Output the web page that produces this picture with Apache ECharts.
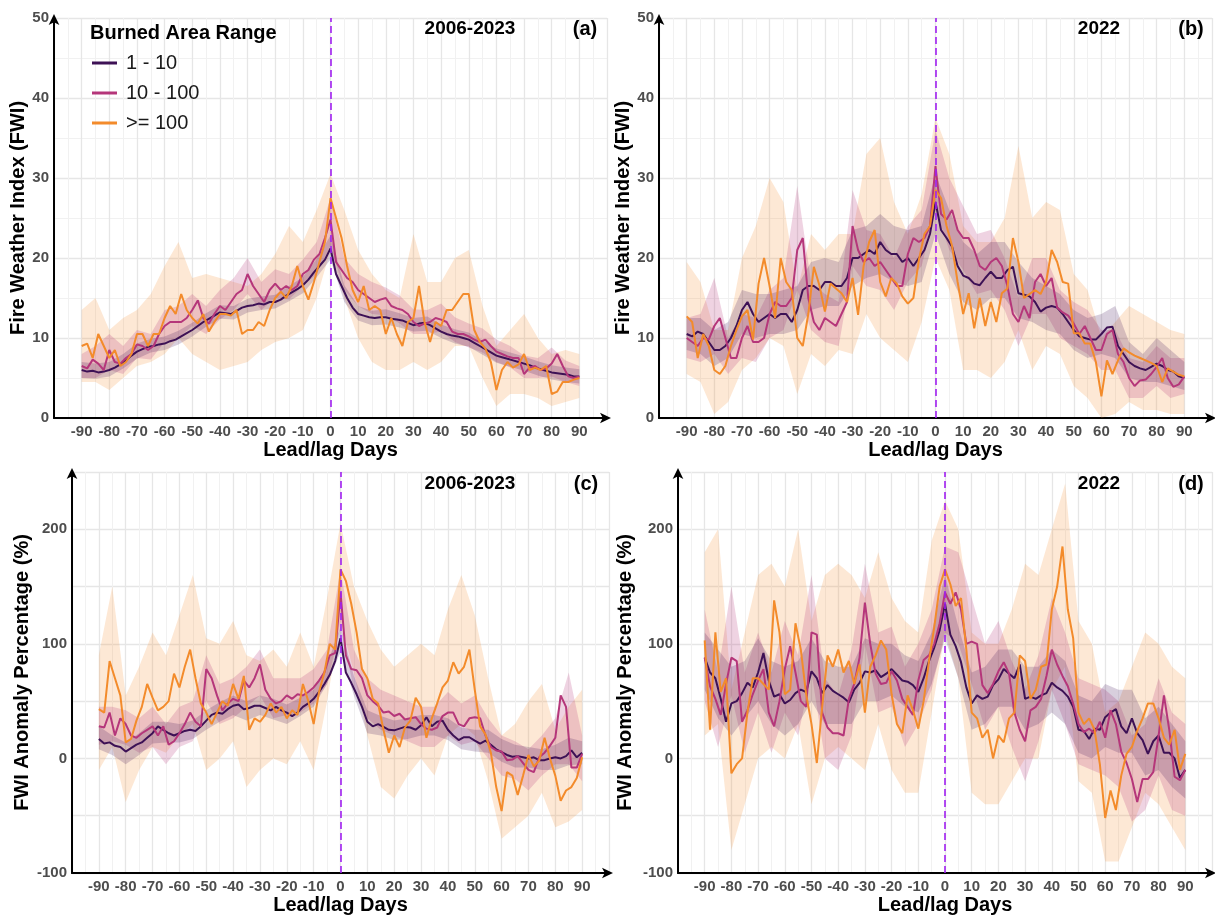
<!DOCTYPE html>
<html>
<head>
<meta charset="utf-8">
<title>FWI lead/lag</title>
<script src="https://cdn.jsdelivr.net/npm/echarts/dist/echarts.min.js"></script>
<style>
html,body{margin:0;padding:0;background:#fff;}
#main{width:1215px;height:920px;}
</style>
</head>
<body>
<div id="main"></div>
<script>
// lead/lag days of the lines (every 2nd day) and of the uncertainty bands (every 5th day)
var days = [-90,-88,-86,-84,-82,-80,-78,-76,-74,-72,-70,-68,-66,-64,-62,-60,-58,-56,-54,-52,
  -50,-48,-46,-44,-42,-40,-38,-36,-34,-32,-30,-28,-26,-24,-22,-20,-18,-16,-14,-12,
  -10,-8,-6,-4,-2,0,2,4,6,8,10,12,14,16,18,20,22,24,26,28,30,32,34,36,38,40,42,44,46,48,
  50,52,54,56,58,60,62,64,66,68,70,72,74,76,78,80,82,84,86,88,90];
var bandDays = [-90,-85,-80,-75,-70,-65,-60,-55,-50,-45,-40,-35,-30,-25,-20,-15,-10,-5,0,
  5,10,15,20,25,30,35,40,45,50,55,60,65,70,75,80,85,90];

var seriesNames = ['1 - 10', '10 - 100', '>= 100'];

// (a) FWI 2006-2023
var fwiAllSmall = [6,5.8,5.9,5.7,5.8,6,6.3,6.7,7.2,7.8, 8.3,8.6,8.9,9,9.2,9.3,9.6,9.8,10.2,10.6,
  11,11.5,12,12.4,12.8,13.2,13.1,13,13.4,13.8, 14,14.1,14.3,14.2,14.5,14.5,14.8,15.3,15.7,16.1,
  16.6,17.3,18.2,19,19.8,21.2,18,16.5,15,13.8, 13,12.8,12.6,12.5,12.6,12.6,12.4,12.3,12.2,11.9,
  11.6,11.8,11.9,11.6,11.2,10.8,10.5,10.3,10.2,10, 9.8,9.4,9,8.6,8.2,7.8,7.6,7.4,7.2,7,
  6.8,6.6,6.3,6.1,5.9,5.7,5.6,5.5,5.4,5.2, 5.2];
var fwiAllMid = [6.5,6.2,7.3,6.8,6,8.5,7,6.8,7.5,8, 9.2,9,8.5,9,10.5,11.5,12,12,12,12.5,
  13.5,14.7,12.5,11.8,13,14,13.5,14.5,15.5,16, 18,16.5,15.5,14.5,16,16.8,16,16.5,16,16.5,
  18,18.5,19.8,20.5,22.5,24.8,19.5,18.5,17.5,17, 16,15.5,15,14.5,14.8,15,14,13.7,13.5,13,
  12,11.5,11.8,12,12.5,12.3,12,10.8,10.5,10.5, 10.2,9.8,9.5,9.8,9,8.3,8,7.7,7.5,7.5,
  5.5,6.3,6.5,6,6.2,6.8,8,6.5,5.2,5, 5.2];
var fwiAllLarge = [9,9.3,7.5,10.5,9,7.5,8.5,6.5,7,8, 10.5,10.5,9,10.5,10.5,12.5,14,13,15.5,13.5,
  12.5,11.8,13,10.8,12,13,13,12.8,13.5,10.5, 11,11,12,11.5,13.5,15,15.8,15,16.5,19,
  16.5,14.8,17,19.5,22,27.5,25,22.5,19,16, 14.5,16.5,13.5,14,13.5,10.5,12.5,10.5,9,12,
  12.5,16.5,12,9.5,12,11.5,13.5,13.5,14.5,15.5, 15.5,11,9.5,8.7,7,3.5,6,7,6.3,6.7,
  8,6,6.3,6,6.5,3,3.3,4.5,4.5,4.8, 5];
var fwiAllSmallLo = [5.0,4.9,5.2,6.2,7.4,8.2,8.5,9.2,10.2,11.4,12.4,12.3,13.2,13.5,13.7,14.6,15.6,17.6,19.8,14.5,12.2,11.6,11.7,11.3,10.8,10.9,10.0,9.3,8.9,7.9,6.9,6.4,5.9,5.3,4.8,4.5,4.3];
var fwiAllSmallHi = [7.0,6.8,7.0,8.0,9.3,9.9,10.2,10.9,11.9,13.1,14.1,14.0,14.9,15.2,15.4,16.5,17.6,19.9,22.8,16.6,14.0,13.4,13.6,13.1,12.5,12.7,11.7,11.1,10.7,9.7,8.7,8.2,7.7,7.1,6.6,6.3,6.1];
var fwiAllMidLo = [5,5,6,5.5,7.5,7.3,9.5,10,11.5,10.5,12.3,13.5,15.5,13.5,15,14.8,16.5,18,21.5,16,14,13,12.8,11.8,10.5,10.5,10.8,9.5,8.8,8.2,7,6.3,5,5,5.2,4.5,4];
var fwiAllMidHi = [8,9,10.5,9,11,10.5,13.5,14,15.5,14,16,17.5,20,17,18.6,18,19.8,22,27.5,20,18,17,16.3,15.3,13.6,13.5,14.3,12.6,11.8,11.2,9.8,9,7.8,7.5,8.8,7.2,6.5];
var fwiAllLargeLo = [4.5,4.5,3.5,5,6.5,7,8,10,8,7,6,6.5,7,8.5,9.5,10,11,15,21,15,10,7,6,6,7,6,7,9,9,5,1.5,3,3,2.5,1.5,2,2.5];
var fwiAllLargeHi = [13.5,15,11,12.5,13.5,15.5,19,22,17.5,18,17.5,17,16.5,18,20.5,24,22,26,30.5,26,21,18,16,15,23,17,17,20,21,14,9,11,13,10,8,8.5,8];

// (b) FWI 2022
var fwi22Small = [10.5,10.2,10.8,10.5,9.5,8.5,8.5,9,10,11.5, 13.5,14.5,13,12,12.5,13,12.5,13,13,12,
  13.5,16,16.5,16.5,16,17,17,16.5,16.5,17.5, 20,20,20.5,21,20.5,22,21,20.5,20.5,19.5,
  20,19,20,21,23,27,23.5,22.5,21.4,19, 17.8,17.5,16.8,16.6,17.5,18.3,17.5,17.5,18.5,18.9,
  15.6,15.4,15.2,14.5,13.3,13.8,14,13.8,13,12, 11,10.2,10,9.8,9.8,10.5,11.3,11.4,9,8,
  7,6.5,6.2,6,6.4,6.8,6.5,6,5.8,5.2, 5];
var fwi22Mid = [10,9.5,9,10,9.8,11.5,12.5,10,7.5,7.5, 10,11.5,9.5,9.5,10,13,14.5,14,14,15,
  21,22.5,15,12,11,12.5,12,11.5,13,14.5, 24,21,19.5,20,19,19.5,18.5,17.5,16.5,16.5,
  20.5,22.5,22,22.5,24,31.5,25.5,24.8,26,23.5, 22.5,22.5,21,19,18.5,19.5,20,19,16.5,13,
  12,14,12.5,17,18,16.5,17.5,13.8,13.2,12.8, 11.8,10.5,11.5,10,8.5,8.5,10.5,11,8,7,
  5,4,4.7,4.8,5.5,6.4,7.5,5,3.9,4.2, 5.2];
var fwi22Large = [12.7,12,7.5,10.5,9,6,5.5,6.5,9,11, 12.7,13.5,9.8,16.8,20,16.5,12.5,20,17,16,
  10,9,13,18.9,16.6,13.3,16.8,16.2,15.6,14.5, 17.5,12.9,19,22,23.5,17,15.2,17.5,16.8,15.2,
  14.3,15,19.8,23,24,28.5,27.5,24,21.5,17, 13,15.6,11.2,15,11.5,14.5,12,15.6,16.2,22.5,
  19.5,15,15.5,16,15.5,17,21,19.5,17,16.8, 10.6,10.6,9.3,9.3,7,2.7,7.2,5.5,7.2,8.7,
  8.2,7.8,7.5,7.2,6.9,6.5,4.5,6.2,5.8,5.4, 5.2];
var fwi22SmallLo = [8.5,8,6.5,7.5,10.5,10,10.5,10.5,11,13.5,14,14,16.5,17.5,18,17,16.5,17,23,18,14.5,13.5,15,15,12.5,12,11,10.5,8.5,7.5,8,7.5,5,4.5,4.5,4,3.5];
var fwi22SmallHi = [12.5,12.5,11,12,16,15.5,15.5,16,16.5,19.5,20,19.5,23.5,24,25.5,24,23.5,24,30.5,26,22,20.5,22,22,19.5,17.5,16.5,15.5,13.5,12.5,13,14,9.5,8,10,8.5,7];
var fwi22MidLo = [7.5,7,8,5.5,7.5,7,10,11,16,11,9.5,9,19,16.5,16,13.5,17,19,26,21,18.5,15.5,16,13.5,9,13,13,10,9,8,6,6,2.5,2.5,4,2.5,3];
var fwi22MidHi = [12.5,13,17.5,10,13,12.5,16,17.5,29,17,15.5,14.5,28.5,23.5,23,20,24,26,36,30,26.5,23,23.5,20,15,20,20,16,14.5,13.5,11,11,7.5,7,9,7.5,7.5];
var fwi22LargeLo = [5.5,4.5,0.5,2,6,7.5,10,9,3,8,6.5,8.5,8,13,10,8.5,7,12,20,16,6,6,5,7,11,6,9,8,4,2.5,0,0.5,2,1,1,0.5,0.5];
var fwi22LargeHi = [19.5,17,11,11,20,24,30,27,16,23,21,23,23,33,35,27,23,28,37.5,33,24,22,22,25,34,25,27,26,18,16,10,12,14,13,12,11,10.5];

// (c) FWI anomaly 2006-2023
var anomAllSmall = [17,13,14,11,10,6,9,12,14,18, 22,28,25,22,20,22,24,25,24,28,
  33,38,40,39,43,46,47,43,44,46, 46,44,42,45,42,40,37,40,45,48,
  52,58,65,73,85,105,75,66,56,45, 32,28,30,27.5,25,24.5,26,27.5,27,25,
  29,36,28,32,33,25,20,16,18.5,18.5, 15.5,13,15.5,12,8,5.5,3,1.5,2,1,
  0,1,-1.5,-1.5,0,1,0,2,7,1, 5];
var anomAllMid = [28,27,40,20,35,30,20,18,22,25, 28,20,28,12,15,22,30,40,32,28,
  78,70,55,42,48,52,50,68,62,70, 82,60,52,48,50,55,52,56,55,58,
  62,68,75,90,92,145,90,78,77,70, 55,50,46,40,41,37,39,34,35,36,
  30,26,25,27,37,40,40,30,28,35, 36,35,20,10,7,6,-1.5,-1,2,-4,
  -10,-12,1,5,11,18,55,45,-8,-8, 4];
var anomAllLarge = [43,40,85,70,55,14,17,33,45,65, 53,42,45,50,74,62,80,95,70,48,
  40,30,40,50,46,65,52,72,25,35, 32,38,48,40,45,35,42,38,65,50,
  30,58,75,100,95,165,155,135,110,78, 70,52,48,25,5,20,10,27,33,53,
  45,18,35,48,62,68,84,74,80,95, 60,28,21,5,-25,-46,-12,-15,-32,-15,
  3,-7,-2,18,0,-15,-37,-28,-25,-17, 1];
var anomAllSmallLo = [8,3,-5,3,13,14,14,17,25,32,38,33,38,34,30,37,45,65,93,55,22,20,16,17,20,20,16,8,6,5,-3,-8,-8,-10,-10,-6,-5];
var anomAllSmallHi = [28,20,14,22,32,32,30,33,42,49,55,50,55,52,47,53,60,82,115,72,42,37,33,35,38,38,35,27,25,25,17,12,10,8,12,18,15];
var anomAllMidLo = [12,15,12,5,10,-5,10,15,50,30,35,45,55,35,38,40,48,65,115,60,35,25,20,15,10,10,20,12,15,0,-15,-18,-28,-15,-5,-5,-20];
var anomAllMidHi = [45,45,42,35,45,30,45,50,90,65,70,80,95,70,70,70,78,95,165,95,70,60,55,50,45,45,58,48,55,35,20,15,8,20,35,75,20];
var anomAllLargeLo = [-10,10,-38,-10,10,5,20,30,-10,0,15,-25,-10,0,-5,15,-10,50,120,75,20,-25,-35,-15,0,-15,20,30,20,-20,-70,-60,-50,-30,-60,-55,-45];
var anomAllLargeHi = [90,150,55,80,110,90,125,160,105,100,120,90,85,95,80,110,80,140,205,150,120,95,80,90,100,90,130,160,125,70,20,30,50,65,25,45,60];

// (d) FWI anomaly 2022
var anom22Small = [88,75,70,52,32,48,50,57,66,62, 75,92,68,54,56,48,51,57,60,58,
  76,70,57,64,59,56,53,49,60,66, 76,75,77,71,74,78,73,68,67,64,
  58,70,85,97,112,135,108,98,84,62, 48,55,52,54,64,69,78,74,70,82,
  52,54,52,55,57,66,62,59,54,45, 25,24,17,26,25,36,40,43,28,22,
  35,22,16,4,15,20,5,5,0,-17, -10];
var anom22Mid = [88,63,52,38,65,88,85,32,42,56, 68,78,40,28,50,78,98,75,50,45,
  110,108,40,27,22,22,20,52,65,88, 136,100,74,65,66,76,68,52,45,38,
  68,86,90,100,118,145,135,145,130,100, 102,100,64,57,65,76,84,74,40,25,
  15,42,45,52,72,95,82,72,63,48, 30,23,26,22,32,18,42,30,6,-4,
  -18,-38,-18,-18,-12,20,55,25,-16,-19, -10];
var anom22Large = [103,25,110,58,70,-13,-5,0,40,70, 70,65,60,138,110,56,60,118,95,56,
  30,-4,45,90,80,95,75,85,65,82, 40,80,90,103,95,56,30,22,55,42,
  26,50,85,115,150,165,152,133,140,95, 40,35,18,25,0,20,14,35,40,90,
  85,52,60,80,82,130,150,185,130,105, 40,30,35,25,-5,-52,-28,-45,-15,4,
  10,24,35,48,48,35,18,12,25,-10, 4];
var anom22SmallLo = [60,35,20,35,50,30,20,30,50,30,30,30,50,50,55,45,40,65,105,70,25,30,45,45,25,30,40,30,5,0,10,5,5,-15,-10,-25,-35];
var anom22SmallHi = [110,95,80,85,105,85,80,85,105,85,80,80,105,100,100,90,85,110,160,115,75,80,95,95,80,80,95,85,55,50,65,60,60,35,45,30,15];
var anom22MidLo = [50,10,55,5,40,5,40,20,75,0,-10,20,100,40,45,10,30,60,110,100,65,25,45,10,-20,15,60,30,-5,-10,-15,-25,-55,-45,-15,-45,-50];
var anom22MidHi = [130,75,150,75,110,75,120,90,160,70,55,95,170,110,115,80,100,130,185,180,140,100,120,85,60,90,140,110,70,65,60,50,20,30,70,40,30];
var anom22LargeLo = [20,30,-80,-40,0,10,0,30,-40,0,10,0,-10,30,-10,-30,-30,40,110,70,-30,-40,-40,-20,0,0,60,80,-20,-30,-90,-90,-60,-30,-40,-60,-80];
var anom22LargeHi = [180,200,60,110,160,170,150,200,120,160,170,160,140,180,140,120,110,190,225,200,110,100,100,130,170,160,200,240,120,100,40,50,80,110,100,80,70];

var myChart = echarts.init(document.getElementById('main'));

var colors = ['#3d1155', '#b5367a', '#f38b2b'];
var bandAlpha = [0.2, 0.22, 0.2];
var fontName = 'Liberation Sans, Arial, sans-serif';

function pairs(xs, ys) {
  return xs.map(function (x, i) { return [x, ys[i]]; });
}

// ribbon drawn as one polygon through the axis scales
function bandSeries(pi, lo, hi, color, alpha) {
  return {
    type: 'custom', xAxisIndex: pi, yAxisIndex: pi, silent: true, z: 1,
    data: bandDays.map(function (x, i) { return [x, lo[i], hi[i]]; }),
    encode: { x: 0, y: [1, 2] },
    renderItem: function (params, api) {
      if (params.dataIndex !== 0) return;
      var pts = [], i;
      for (i = 0; i < bandDays.length; i++) pts.push(api.coord([bandDays[i], hi[i]]));
      for (i = bandDays.length - 1; i >= 0; i--) pts.push(api.coord([bandDays[i], lo[i]]));
      return { type: 'polygon', shape: { points: pts }, style: { fill: color, opacity: alpha } };
    }
  };
}

var panels = [
  { lines: [fwiAllSmall, fwiAllMid, fwiAllLarge],
    lo: [fwiAllSmallLo, fwiAllMidLo, fwiAllLargeLo], hi: [fwiAllSmallHi, fwiAllMidHi, fwiAllLargeHi],
    grid: { left: 54, top: 18, width: 553, height: 400 }, yName: 'Fire Weather Index (FWI)', yGap: 23,
    ymin: 0, ymax: 50, yint: 10 },
  { lines: [fwi22Small, fwi22Mid, fwi22Large],
    lo: [fwi22SmallLo, fwi22MidLo, fwi22LargeLo], hi: [fwi22SmallHi, fwi22MidHi, fwi22LargeHi],
    grid: { left: 659, top: 18, width: 554, height: 400 }, yName: 'Fire Weather Index (FWI)', yGap: 25,
    ymin: 0, ymax: 50, yint: 10 },
  { lines: [anomAllSmall, anomAllMid, anomAllLarge],
    lo: [anomAllSmallLo, anomAllMidLo, anomAllLargeLo], hi: [anomAllSmallHi, anomAllMidHi, anomAllLargeHi],
    grid: { left: 72, top: 472, width: 537, height: 401 }, yName: 'FWI Anomaly Percentage (%)', yGap: 40,
    ymin: -100, ymax: 250, yint: 50 },
  { lines: [anom22Small, anom22Mid, anom22Large],
    lo: [anom22SmallLo, anom22MidLo, anom22LargeLo], hi: [anom22SmallHi, anom22MidHi, anom22LargeHi],
    grid: { left: 678, top: 472, width: 536, height: 401 }, yName: 'FWI Anomaly Percentage (%)', yGap: 43,
    ymin: -100, ymax: 250, yint: 50 }
];

var grids = [], xAxes = [], yAxes = [], series = [];

panels.forEach(function (p, pi) {
  grids.push(p.grid);
  xAxes.push({
    type: 'value', gridIndex: pi, min: -100, max: 100, interval: 10,
    name: 'Lead/lag Days', nameLocation: 'middle', nameGap: 22,
    nameTextStyle: { fontSize: 20, fontWeight: 'bold', color: '#000', fontFamily: fontName },
    axisLine: { onZero: false, symbol: ['none', 'arrow'], symbolSize: [8, 11], symbolOffset: [0, 4],
      lineStyle: { color: '#000', width: 2 } },
    axisTick: { show: false },
    axisLabel: { color: '#4d4d4d', fontWeight: 'bold', fontSize: 15, fontFamily: fontName, margin: 6,
      formatter: function (v) { return Math.abs(v) === 100 ? '' : v; } },
    splitLine: { show: true, lineStyle: { color: '#e6e6e6', width: 1.3 } },
    minorTick: { show: false, splitNumber: 2 },
    minorSplitLine: { show: true, lineStyle: { color: '#f1f1f1', width: 1 } }
  });
  yAxes.push({
    type: 'value', gridIndex: pi, min: p.ymin, max: p.ymax, interval: p.yint,
    name: p.yName, nameLocation: 'middle', nameGap: p.yGap,
    nameTextStyle: { fontSize: 20, fontWeight: 'bold', color: '#000', fontFamily: fontName },
    axisLine: { show: true, onZero: false, symbol: ['none', 'arrow'], symbolSize: [8, 11], symbolOffset: [0, 4],
      lineStyle: { color: '#000', width: 2 } },
    axisTick: { show: false },
    axisLabel: { color: '#4d4d4d', fontWeight: 'bold', fontSize: 15, fontFamily: fontName, margin: 5,
      formatter: function (v) { return (p.yint === 50 && v % 100 !== 0) ? '' : v; } },
    splitLine: { show: true, lineStyle: { color: '#e6e6e6', width: 1.3 } },
    minorTick: { show: false, splitNumber: 2 },
    minorSplitLine: { show: p.yint === 10, lineStyle: { color: '#f1f1f1', width: 1 } }
  });

  // uncertainty ribbons, widest first
  [2, 1, 0].forEach(function (k) {
    series.push(bandSeries(pi, p.lo[k], p.hi[k], colors[k], bandAlpha[k]));
  });

  [0, 1, 2].forEach(function (k) {
    var s = {
      type: 'line', name: seriesNames[k], xAxisIndex: pi, yAxisIndex: pi,
      data: pairs(days, p.lines[k]), symbol: 'none',
      lineStyle: { color: colors[k], width: 2 }, itemStyle: { color: colors[k] }, z: 3
    };
    if (k === 0) {
      s.markLine = {
        silent: true, symbol: ['none', 'none'], label: { show: false },
        lineStyle: { color: '#a020f0', type: [7, 4], width: 1.6 },
        data: [{ xAxis: 0 }]
      };
    }
    series.push(s);
  });
});

function txt(text, x, y, size) {
  return { type: 'text', x: x, y: y, silent: true, z: 10,
    style: { text: text, fill: '#000', font: 'bold ' + size + 'px ' + fontName,
      textAlign: 'center', textVerticalAlign: 'middle' } };
}

option = {
  animation: false,
  backgroundColor: '#fff',
  grid: grids,
  xAxis: xAxes,
  yAxis: yAxes,
  legend: {
    data: seriesNames, orient: 'vertical', left: 92, top: 53, padding: 0,
    icon: 'rect', itemWidth: 25, itemHeight: 3, itemGap: 10,
    textStyle: { fontSize: 20, color: '#1a1a1a', fontFamily: fontName, lineHeight: 20, padding: [0, 0, 0, 4] }
  },
  graphic: [
    { type: 'text', x: 90, y: 33, silent: true, z: 10,
      style: { text: 'Burned Area Range', fill: '#000', font: 'bold 20px ' + fontName, textVerticalAlign: 'middle' } },
    txt('2006-2023', 470, 29, 19), txt('(a)', 585, 29, 20),
    txt('2022', 1099, 29, 19), txt('(b)', 1191, 29, 20),
    txt('2006-2023', 470, 484, 19), txt('(c)', 586, 484, 20),
    txt('2022', 1099, 484, 19), txt('(d)', 1191, 484, 20)
  ],
  series: series
};

myChart.setOption(option);
</script>
</body>
</html>
